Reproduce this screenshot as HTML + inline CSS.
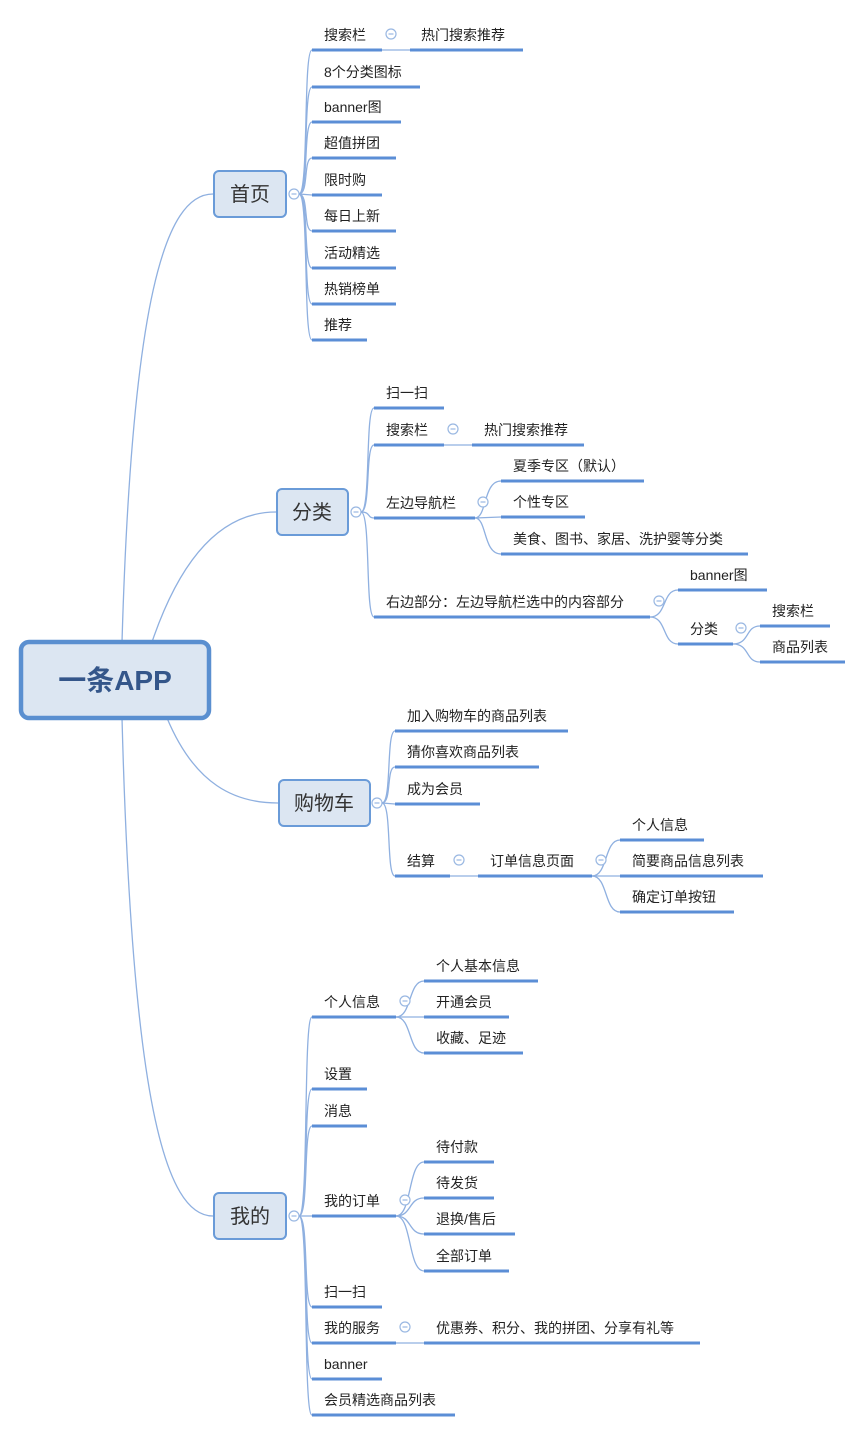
<!DOCTYPE html>
<html><head><meta charset="utf-8"><style>
html,body{margin:0;padding:0;background:#fff;}
svg{display:block;}
text{font-family:"Liberation Sans","Noto Sans CJK SC",sans-serif;fill:#222;font-size:14px;}
.u{stroke:#5b8ed6;stroke-width:3;fill:none;}
.c{stroke:#8fb0e0;stroke-width:1.3;fill:none;}
.o{stroke:#9ab8e2;stroke-width:1.2;fill:#fff;}
.b{fill:#dce6f2;stroke:#6a9bd8;stroke-width:2;}
.bt{font-size:20px;fill:#333;}
</style></head><body>
<svg width="865" height="1434" viewBox="0 0 865 1434" xmlns="http://www.w3.org/2000/svg">
<defs>
<g id="m"><circle r="5" class="o"/><line x1="-2.5" y1="0" x2="2.5" y2="0" stroke="#9ab8e2" stroke-width="1.2"/></g>
</defs>

<!-- root connectors -->
<path class="c" d="M122,642 C132,300 165,194 213,194"/>
<path class="c" d="M152,642 C185,545 230,512 276,512"/>
<path class="c" d="M167,718 C195,785 235,803 278,803"/>
<path class="c" d="M122,718 C132,1100 165,1216 213,1216"/>

<!-- root -->
<rect x="21" y="642" width="188" height="76" rx="8" fill="#dce6f2" stroke="#5a8fd0" stroke-width="4.5"/>
<text x="115" y="690" text-anchor="middle" style="font-size:28px;font-weight:bold;fill:#34568a">一条APP</text>

<!-- 首页 -->
<rect class="b" x="214" y="171" width="72" height="46" rx="5"/>
<text class="bt" x="250" y="201" text-anchor="middle">首页</text>
<use href="#m" x="294" y="194"/>
<g class="c">
<path d="M299,194 C309,194 303,50 312,50"/>
<path d="M299,194 C309,194 303,87 312,87"/>
<path d="M299,194 C309,194 303,122 312,122"/>
<path d="M299,194 C309,194 303,158 312,158"/>
<path d="M299,194 L312,195"/>
<path d="M299,194 C309,194 303,231 312,231"/>
<path d="M299,194 C309,194 303,268 312,268"/>
<path d="M299,194 C309,194 303,304 312,304"/>
<path d="M299,194 C309,194 303,340 312,340"/>
<path d="M382,50 L410,50"/>
</g>
<g class="u">
<path d="M312,50H382"/><path d="M410,50H523"/>
<path d="M312,87H420"/><path d="M312,122H401"/><path d="M312,158H396"/>
<path d="M312,195H382"/><path d="M312,231H396"/><path d="M312,268H396"/>
<path d="M312,304H396"/><path d="M312,340H367"/>
</g>
<use href="#m" x="391" y="34"/>
<text x="324" y="40">搜索栏</text><text x="421" y="40">热门搜索推荐</text>
<text x="324" y="77">8个分类图标</text><text x="324" y="112">banner图</text>
<text x="324" y="148">超值拼团</text><text x="324" y="185">限时购</text>
<text x="324" y="221">每日上新</text><text x="324" y="258">活动精选</text>
<text x="324" y="294">热销榜单</text><text x="324" y="330">推荐</text>

<!-- 分类 -->
<rect class="b" x="277" y="489" width="71" height="46" rx="5"/>
<text class="bt" x="312" y="519" text-anchor="middle">分类</text>
<use href="#m" x="356" y="512"/>
<g class="c">
<path d="M361,512 C371,512 365,408 374,408"/>
<path d="M361,512 C371,512 365,445 374,445"/>
<path d="M361,512 C371,512 367,518 374,518"/>
<path d="M361,512 C371,512 365,617 374,617"/>
<path d="M444,445 L472,445"/>
<path d="M475,518 C487,518 483,481 501,481"/>
<path d="M475,518 L501,517"/>
<path d="M475,518 C487,518 483,554 501,554"/>
<path d="M650,617 C667,617 662,590 678,590"/>
<path d="M650,617 C667,617 662,644 678,644"/>
<path d="M733,644 C750,644 745,626 760,626"/>
<path d="M733,644 C750,644 745,662 760,662"/>
</g>
<g class="u">
<path d="M374,408H444"/><path d="M374,445H444"/><path d="M472,445H584"/>
<path d="M374,518H475"/><path d="M501,481H644"/><path d="M501,517H585"/><path d="M501,554H748"/>
<path d="M374,617H650"/><path d="M678,590H767"/><path d="M678,644H733"/>
<path d="M760,626H830"/><path d="M760,662H845"/>
</g>
<use href="#m" x="453" y="429"/><use href="#m" x="483" y="502"/>
<use href="#m" x="659" y="601"/><use href="#m" x="741" y="628"/>
<text x="386" y="398">扫一扫</text><text x="386" y="435">搜索栏</text><text x="484" y="435">热门搜索推荐</text>
<text x="386" y="508">左边导航栏</text>
<text x="513" y="471">夏季专区（默认）</text><text x="513" y="507">个性专区</text>
<text x="513" y="544">美食、图书、家居、洗护婴等分类</text>
<text x="386" y="607">右边部分：左边导航栏选中的内容部分</text>
<text x="690" y="580">banner图</text><text x="690" y="634">分类</text>
<text x="772" y="616">搜索栏</text><text x="772" y="652">商品列表</text>

<!-- 购物车 -->
<rect class="b" x="279" y="780" width="91" height="46" rx="5"/>
<text class="bt" x="324" y="810" text-anchor="middle">购物车</text>
<use href="#m" x="377" y="803"/>
<g class="c">
<path d="M382,803 C392,803 386,731 395,731"/>
<path d="M382,803 C392,803 386,767 395,767"/>
<path d="M382,803 L395,804"/>
<path d="M382,803 C392,803 386,876 395,876"/>
<path d="M450,876 L478,876"/>
<path d="M592,876 C608,876 604,840 620,840"/>
<path d="M592,876 L620,876"/>
<path d="M592,876 C608,876 604,912 620,912"/>
</g>
<g class="u">
<path d="M395,731H568"/><path d="M395,767H539"/><path d="M395,804H480"/>
<path d="M395,876H450"/><path d="M478,876H592"/>
<path d="M620,840H704"/><path d="M620,876H763"/><path d="M620,912H734"/>
</g>
<use href="#m" x="459" y="860"/><use href="#m" x="601" y="860"/>
<text x="407" y="721">加入购物车的商品列表</text><text x="407" y="757">猜你喜欢商品列表</text>
<text x="407" y="794">成为会员</text><text x="407" y="866">结算</text><text x="490" y="866">订单信息页面</text>
<text x="632" y="830">个人信息</text><text x="632" y="866">简要商品信息列表</text><text x="632" y="902">确定订单按钮</text>

<!-- 我的 -->
<rect class="b" x="214" y="1193" width="72" height="46" rx="5"/>
<text class="bt" x="250" y="1223" text-anchor="middle">我的</text>
<use href="#m" x="294" y="1216"/>
<g class="c">
<path d="M299,1216 C309,1216 303,1017 312,1017"/>
<path d="M299,1216 C309,1216 303,1089 312,1089"/>
<path d="M299,1216 C309,1216 303,1126 312,1126"/>
<path d="M299,1216 L312,1216"/>
<path d="M299,1216 C309,1216 303,1307 312,1307"/>
<path d="M299,1216 C309,1216 303,1343 312,1343"/>
<path d="M299,1216 C309,1216 303,1379 312,1379"/>
<path d="M299,1216 C309,1216 303,1415 312,1415"/>
<path d="M396,1017 C412,1017 408,981 424,981"/>
<path d="M396,1017 L424,1017"/>
<path d="M396,1017 C412,1017 408,1053 424,1053"/>
<path d="M396,1216 C412,1216 408,1162 424,1162"/>
<path d="M396,1216 C412,1216 408,1198 424,1198"/>
<path d="M396,1216 C412,1216 408,1234 424,1234"/>
<path d="M396,1216 C412,1216 408,1271 424,1271"/>
<path d="M396,1343 L424,1343"/>
</g>
<g class="u">
<path d="M312,1017H396"/><path d="M424,981H538"/><path d="M424,1017H509"/><path d="M424,1053H523"/>
<path d="M312,1089H367"/><path d="M312,1126H367"/>
<path d="M312,1216H396"/><path d="M424,1162H494"/><path d="M424,1198H494"/><path d="M424,1234H515"/><path d="M424,1271H509"/>
<path d="M312,1307H382"/><path d="M312,1343H396"/><path d="M424,1343H700"/>
<path d="M312,1379H382"/><path d="M312,1415H455"/>
</g>
<use href="#m" x="405" y="1001"/><use href="#m" x="405" y="1200"/><use href="#m" x="405" y="1327"/>
<text x="324" y="1007">个人信息</text>
<text x="436" y="971">个人基本信息</text><text x="436" y="1007">开通会员</text><text x="436" y="1043">收藏、足迹</text>
<text x="324" y="1079">设置</text><text x="324" y="1116">消息</text>
<text x="324" y="1206">我的订单</text>
<text x="436" y="1152">待付款</text><text x="436" y="1188">待发货</text><text x="436" y="1224">退换/售后</text><text x="436" y="1261">全部订单</text>
<text x="324" y="1297">扫一扫</text><text x="324" y="1333">我的服务</text>
<text x="436" y="1333">优惠券、积分、我的拼团、分享有礼等</text>
<text x="324" y="1369">banner</text><text x="324" y="1405">会员精选商品列表</text>
</svg>
</body></html>
